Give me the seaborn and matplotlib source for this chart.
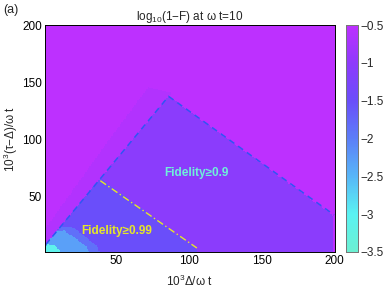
import numpy as np
import pandas as pd
import seaborn as sns
import matplotlib.pyplot as plt
from matplotlib.colors import LinearSegmentedColormap
from matplotlib.path import Path

# grid axes (10^3 Delta / omega t  and  10^3 (tau-Delta) / omega t)
x_vals = np.arange(1, 201)
y_vals = np.arange(1, 201)

# log10(1-F) levels of the regions seen in the map
level_background = -0.5
level_names = ['band', 'fid90', 'fid99', 'inner', 'core', 'corner']
level_values = [-0.62, -1.05, -1.5, -1.85, -2.3, -3.1]
# region outlines (x, y in data units)
region_band = [(0, 10), (0, 20), (45, 100), (72, 146), (88, 141), (86, 138), (0, 6)]
region_fid90 = [(0, 6), (86, 138), (200, 33), (200, 0), (0, 0)]
region_fid99 = [(0, 6), (39, 66), (105, 5), (106, 0), (0, 0)]
region_inner = [(0, 0), (0, 6), (12, 24), (20, 23), (30, 14), (37, 6), (39, 0)]
region_core = [(0, 0), (0, 6), (9, 19.5), (14, 20), (22, 14), (28, 8), (31, 3), (32, 0)]
region_corner = [(0, 0), (0, 5), (3, 8), (8, 7), (11, 4), (12, 0)]

# boundary lines
fid90_x = [1.4, 86, 200]
fid90_y = [8, 138, 34]
fid99_x = [39, 105.5]
fid99_y = [64, 5]

cbar_ticks = [-3.5, -3, -2.5, -2, -1.5, -1, -0.5]
axis_ticks = [50, 100, 150, 200]

# ------------------------------------------------------------------
# build the cell table from the outlines
XX, YY = np.meshgrid(x_vals, y_vals)
pts = np.column_stack([XX.ravel(), YY.ravel()])
Z = np.full(XX.shape, level_background, dtype=float)
regions = [region_band, region_fid90, region_fid99, region_inner, region_core, region_corner]
for poly, lev in zip(regions, level_values):
    mask = Path(poly).contains_points(pts).reshape(XX.shape)
    Z[mask] = lev
df = pd.DataFrame(Z, index=y_vals, columns=x_vals)

cmap = LinearSegmentedColormap.from_list('fid', [
    (0.0, '#6CF0D2'), (0.1667, '#5AF2F2'), (0.3333, '#58B6F8'),
    (0.5, '#5C7EF8'), (0.6667, '#6A4EFA'), (0.8333, '#8E3AFC'), (1.0, '#BD30FF')])

sns.set_style('white')
plt.rcParams['font.family'] = ['Liberation Sans', 'DejaVu Sans']
plt.rcParams['mathtext.fontset'] = 'custom'
plt.rcParams['mathtext.rm'] = 'Liberation Sans'
plt.rcParams['mathtext.default'] = 'regular'
plt.rcParams['axes.unicode_minus'] = True

fig = plt.figure(figsize=(3.88, 2.88), dpi=100)
ax = fig.add_axes([0.116, 0.125, 0.747, 0.788])
cax = fig.add_axes([0.892, 0.125, 0.031, 0.788])

sns.heatmap(df, ax=ax, cbar_ax=cax, cmap=cmap, vmin=-3.5, vmax=-0.5,
            xticklabels=False, yticklabels=False, rasterized=True)
ax.invert_yaxis()

def pos(v):
    return np.asarray(v, dtype=float) - 0.5

ax.plot(pos(fid90_x), pos(fid90_y), color='#2F55F5', lw=1.1, ls=(0, (4, 3)))
ax.plot(pos(fid99_x), pos(fid99_y), color='#E6E628', lw=1.0, ls=(0, (5, 2, 1, 2)))

ax.text(pos(105.5), pos(71), 'Fidelity≥0.9', color='#6FF0DA', fontsize=8.5,
        fontweight='bold', ha='center', va='center')
ax.text(pos(50), pos(20), 'Fidelity≥0.99', color='#E6E628', fontsize=8.5,
        fontweight='bold', ha='center', va='center')

ax.set_xlim(0.4, 200)
ax.set_ylim(1, 200)
ax.set_xticks(pos(axis_ticks))
ax.set_xticklabels([str(t) for t in axis_ticks])
ax.set_yticks(pos(axis_ticks))
ax.set_yticklabels([str(t) for t in axis_ticks])
ax.tick_params(direction='in', top=True, right=True, length=3, width=0.6,
               labelsize=8.5, colors='black', pad=2)
for s in ax.spines.values():
    s.set_visible(True)
    s.set_color('black')
    s.set_linewidth(0.7)

ax.set_xlabel('10$^3$Δ/ω t', fontsize=8.5, labelpad=5)
ax.set_ylabel('10$^3$(τ−Δ)/ω t', fontsize=8.5, labelpad=2)
ax.set_title('log$_{10}$(1−F) at ω t=10', fontsize=8.5, pad=4)
fig.text(0.008, 0.985, '(a)', fontsize=9, ha='left', va='top')

cax.set_yticks(cbar_ticks)
cax.set_yticklabels(['−3.5', '−3', '−2.5', '−2', '−1.5', '−1', '−0.5'])
cax.tick_params(axis='y', direction='in', left=True, right=True, length=2.5,
                width=0.6, labelsize=8.5, pad=2)
for s in cax.spines.values():
    s.set_visible(True)
    s.set_color('#777777')
    s.set_linewidth(0.7)

fig.savefig('out.png', dpi=100)
plt.close(fig)
